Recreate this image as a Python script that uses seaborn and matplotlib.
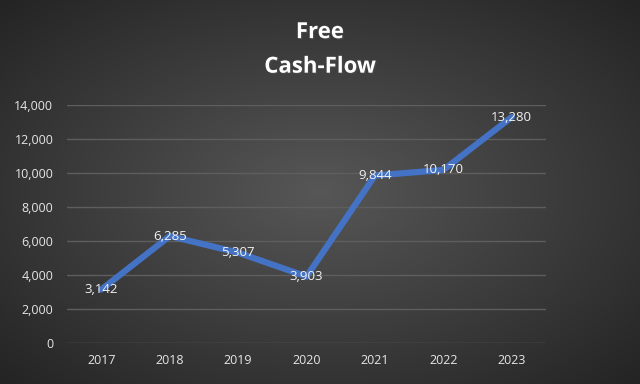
import numpy as np
import pandas as pd
import matplotlib
matplotlib.use("Agg")
import matplotlib.pyplot as plt
import matplotlib.patheffects as pe
import seaborn as sns

years = ["2017", "2018", "2019", "2020", "2021", "2022", "2023"]
fcf = [3142, 6285, 5307, 3903, 9844, 10170, 13280]
yticks = [0, 2000, 4000, 6000, 8000, 10000, 12000, 14000]

df = pd.DataFrame({"year": years, "fcf": fcf})

sns.set_theme(style="dark")
plt.rcParams["font.family"] = ["Open Sans", "DejaVu Sans"]

fig = plt.figure(figsize=(6.4, 3.84), dpi=100)

# radial gradient background
bg = fig.add_axes([0, 0, 1, 1])
gx, gy = np.meshgrid(np.linspace(-1, 1, 640), np.linspace(-1, 1, 384))
r = np.clip(np.sqrt(gx ** 2 + gy ** 2) / np.sqrt(2), 0, 1)
shade = 0.34 - 0.20 * r
bg.imshow(np.dstack([shade, shade, shade]), aspect="auto", extent=[0, 1, 0, 1])
bg.set_axis_off()

ax = fig.add_axes([0.105, 0.107, 0.748, 0.62])
ax.patch.set_alpha(0)
sns.lineplot(data=df, x="year", y="fcf", sort=False, color="#4472C4",
             linewidth=4.5, ax=ax)

for i, v in enumerate(fcf):
    ax.text(i, v, f"{v:,}", color="#f2f2f2", fontsize=9.5,
            ha="center", va="center")

ax.set_xlim(-0.5, len(years) - 0.5)
ax.set_ylim(0, 14000)
ax.set_yticks(yticks)
ax.set_yticklabels([f"{t:,}" for t in yticks])
ax.yaxis.grid(True, color="#5e5e5e", linewidth=1)
ax.xaxis.grid(False)
ax.tick_params(colors="#e6e6e6", labelsize=9, length=0, pad=8)
ax.tick_params(axis="y", pad=10)
ax.set_xlabel("")
ax.set_ylabel("")
for s in ax.spines.values():
    s.set_visible(False)

shadow = [pe.withSimplePatchShadow(offset=(1, -1), alpha=0.6)]
fig.text(0.5, 0.915, "Free", color="white", fontsize=16, fontweight="bold",
         ha="center", va="center", path_effects=shadow)
fig.text(0.5, 0.825, "Cash-Flow", color="white", fontsize=16, fontweight="bold",
         ha="center", va="center", path_effects=shadow)

fig.savefig("out.png", dpi=100)
